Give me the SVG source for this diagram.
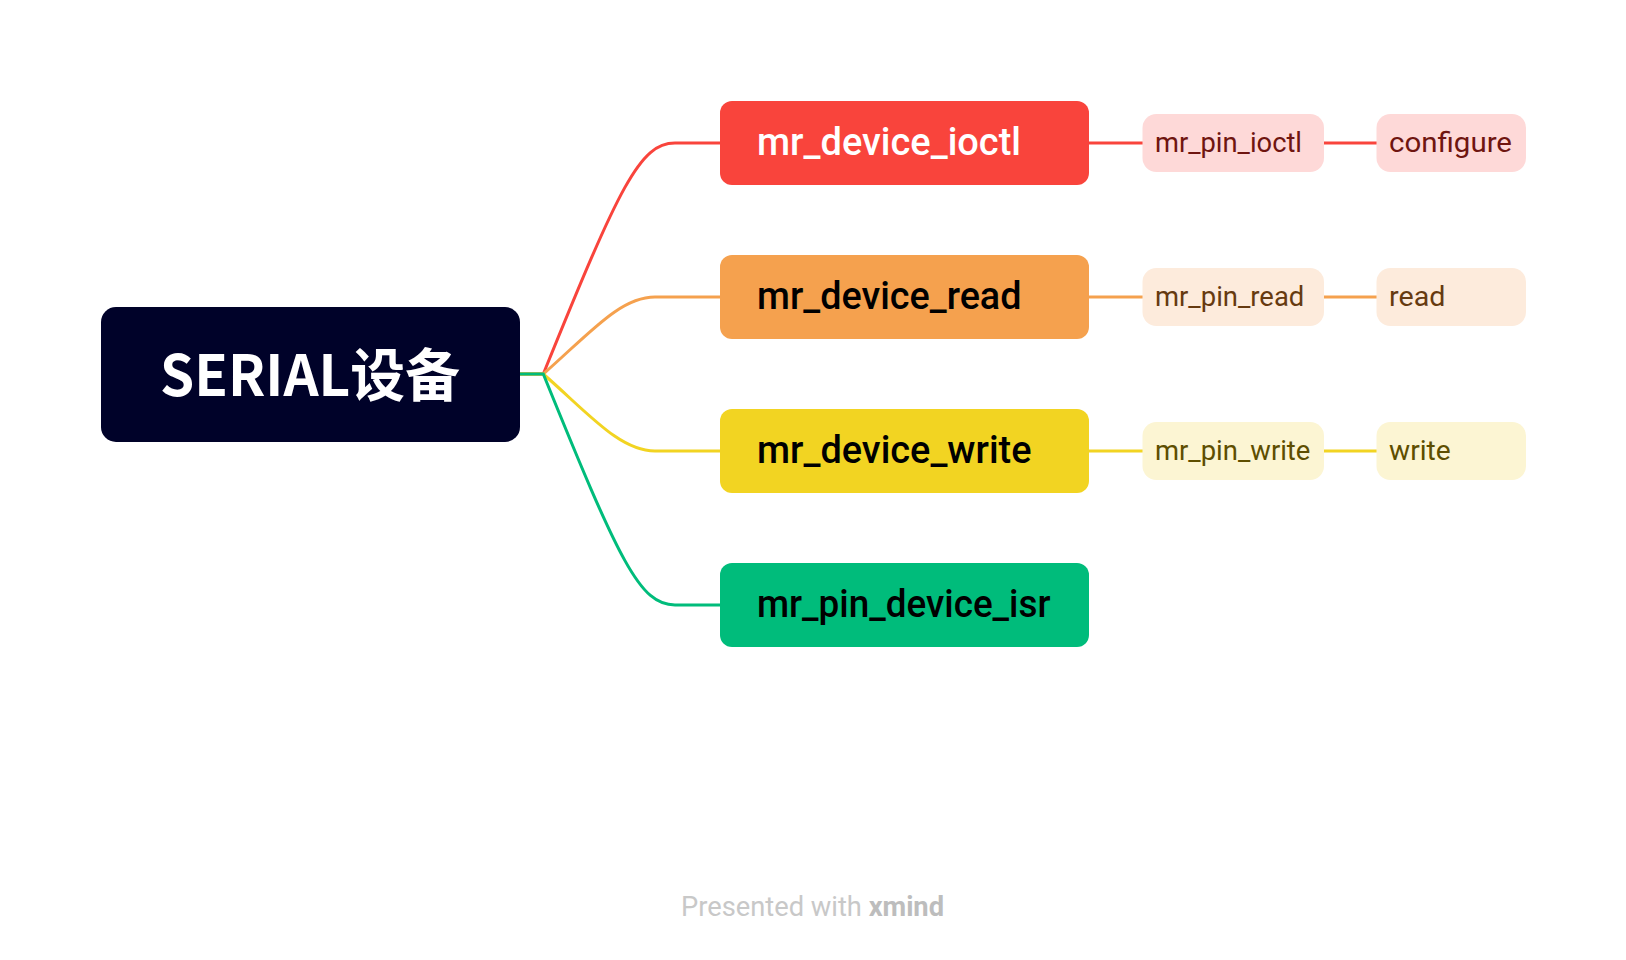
<svg xmlns="http://www.w3.org/2000/svg" width="1626" height="960" viewBox="0 0 1626 960">
<style>
.bg{fill:#ffffff}
.conn{fill:none;stroke-width:3;stroke-linecap:butt}
.root-box{fill:#000229}
.root-txt{font-family:"Noto Sans CJK SC","Noto Sans",sans-serif;font-weight:700;font-size:57px;fill:#ffffff}
.main-txt{font-family:Roboto,"Liberation Sans",sans-serif;font-weight:500;font-size:38px}
.sub-txt{font-family:Roboto,"Liberation Sans",sans-serif;font-weight:400;font-size:27.5px}
.foot{font-family:Roboto,"Liberation Sans",sans-serif;font-size:27.5px}
</style>
<rect class="bg" x="0" y="0" width="1626" height="960"/>
<g id="connectors">
  <path class="conn" stroke="#F9443C" d="M519,374 H543.3 C620,185 640,143 675,143 H720"/>
  <path class="conn" stroke="#F5A14E" d="M519,374 H543.3 C590,333 620,297 655,297 H720"/>
  <path class="conn" stroke="#F2D422" d="M519,374 H543.3 C590,415 620,451 655,451 H720"/>
  <path class="conn" stroke="#00BC7B" d="M519,374 H543.3 C620,563 640,605 675,605 H720"/>
  <path class="conn" stroke="#F9443C" d="M1089,143 H1143 M1324,143 H1377"/>
  <path class="conn" stroke="#F5A14E" d="M1089,297 H1143 M1324,297 H1377"/>
  <path class="conn" stroke="#F2D422" d="M1089,451 H1143 M1324,451 H1377"/>
</g>
<g id="root">
  <rect class="root-box" x="101" y="307" width="419" height="135" rx="15"/>
  <text class="root-txt" x="310" y="396" text-anchor="middle" textLength="300" lengthAdjust="spacingAndGlyphs">SERIAL设备</text>
</g>
<g id="n-ioctl">
  <rect x="720" y="101" width="369" height="84" rx="12" fill="#F9443C"/>
  <text class="main-txt" x="757" y="155" fill="#ffffff" textLength="264" lengthAdjust="spacingAndGlyphs">mr_device_ioctl</text>
</g>
<g id="n-read">
  <rect x="720" y="255" width="369" height="84" rx="12" fill="#F5A14E"/>
  <text class="main-txt" x="757" y="309" fill="#000000" textLength="264.5" lengthAdjust="spacingAndGlyphs">mr_device_read</text>
</g>
<g id="n-write">
  <rect x="720" y="409" width="369" height="84" rx="12" fill="#F2D422"/>
  <text class="main-txt" x="757" y="463" fill="#000000" textLength="274.5" lengthAdjust="spacingAndGlyphs">mr_device_write</text>
</g>
<g id="n-isr">
  <rect x="720" y="563" width="369" height="84" rx="12" fill="#00BC7B"/>
  <text class="main-txt" x="757" y="617" fill="#000000" textLength="293.5" lengthAdjust="spacingAndGlyphs">mr_pin_device_isr</text>
</g>
<g id="s-pin-ioctl">
  <rect x="1142.5" y="114" width="181.5" height="58" rx="14" fill="#FED9D8"/>
  <text class="sub-txt" x="1155" y="152" fill="#6F1510" textLength="147" lengthAdjust="spacingAndGlyphs">mr_pin_ioctl</text>
</g>
<g id="s-configure">
  <rect x="1376.5" y="114" width="149.5" height="58" rx="14" fill="#FED9D8"/>
  <text class="sub-txt" x="1389" y="152" fill="#6F1510" textLength="123" lengthAdjust="spacingAndGlyphs">configure</text>
</g>
<g id="s-pin-read">
  <rect x="1142.5" y="268" width="181.5" height="58" rx="14" fill="#FDEBDC"/>
  <text class="sub-txt" x="1155" y="306" fill="#663A10" textLength="149.3" lengthAdjust="spacingAndGlyphs">mr_pin_read</text>
</g>
<g id="s-read">
  <rect x="1376.5" y="268" width="149.5" height="58" rx="14" fill="#FDEBDC"/>
  <text class="sub-txt" x="1389" y="306" fill="#663A10" textLength="56.4" lengthAdjust="spacingAndGlyphs">read</text>
</g>
<g id="s-pin-write">
  <rect x="1142.5" y="422" width="181.5" height="58" rx="14" fill="#FCF5D3"/>
  <text class="sub-txt" x="1155" y="460" fill="#5E4E00" textLength="155.4" lengthAdjust="spacingAndGlyphs">mr_pin_write</text>
</g>
<g id="s-write">
  <rect x="1376.5" y="422" width="149.5" height="58" rx="14" fill="#FCF5D3"/>
  <text class="sub-txt" x="1389" y="460" fill="#5E4E00" textLength="61.7" lengthAdjust="spacingAndGlyphs">write</text>
</g>
<g id="footer">
  <text class="foot" x="681" y="916" textLength="263" lengthAdjust="spacingAndGlyphs"><tspan fill="#C8C8C8" font-weight="400">Presented with </tspan><tspan fill="#BDBDBD" font-weight="700">xmind</tspan></text>
</g>
</svg>
